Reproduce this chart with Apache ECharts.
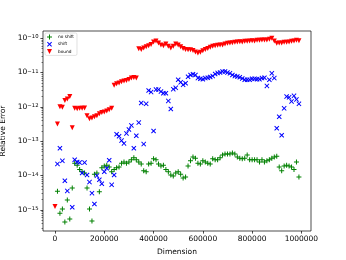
<!DOCTYPE html>
<html><head><meta charset="utf-8">
<script src="https://cdn.jsdelivr.net/npm/echarts@6/dist/echarts.min.js"></script>
<style>html,body{margin:0;padding:0;background:#fff}#c{width:346px;height:260px}</style>
</head><body><div id="c"></div>
<script>
const dims = [0,10000,20000,30000,40000,50000,60000,70000,80000,90000,
 100000,110000,120000,130000,140000,150000,160000,170000,180000,190000,
 200000,210000,220000,230000,240000,250000,260000,270000,280000,290000,
 300000,310000,320000,330000,340000,350000,360000,370000,380000,390000,
 400000,410000,420000,430000,440000,450000,460000,470000,480000,490000,
 500000,510000,520000,530000,540000,550000,560000,570000,580000,590000,
 600000,610000,620000,630000,640000,650000,660000,670000,680000,690000,
 700000,710000,720000,730000,740000,750000,760000,770000,780000,790000,
 800000,810000,820000,830000,840000,850000,860000,870000,880000,890000,
 900000,910000,920000,930000,940000,950000,960000,970000,980000,990000];

const noShift = [null,3.5e-15,8.1e-16,1.07e-15,4.5e-16,1.95e-15,5.5e-16,4.4e-15,2.3e-14,2.0e-14,
 1.5e-14,1.3e-14,1.2e-14,4.4e-15,1.07e-15,4.8e-16,1.1e-14,1.2e-14,3.4e-15,1.7e-14,
 1.9e-14,2.0e-14,1.8e-14,1.3e-14,1.5e-14,1.7e-14,1.8e-14,2.3e-14,2.5e-14,2.3e-14,
 2.5e-14,2.9e-14,3.3e-14,2.9e-14,2.5e-14,2.2e-14,1.4e-14,1.3e-14,2.2e-14,2.3e-14,
 3.1e-14,2.9e-14,2.2e-14,1.9e-14,2.0e-14,1.5e-14,1.3e-14,1.05e-14,9.8e-15,1.2e-14,
 1.3e-14,1.1e-14,8.5e-15,9.1e-15,1.9e-14,2.7e-14,3.5e-14,3.2e-14,2.3e-14,2.2e-14,
 2.7e-14,2.5e-14,2.3e-14,2.2e-14,3.1e-14,2.9e-14,2.9e-14,3.3e-14,4.0e-14,4.3e-14,
 4.3e-14,4.3e-14,4.6e-14,4.3e-14,3.5e-14,3.2e-14,3.1e-14,3.2e-14,4.0e-14,2.9e-14,
 2.9e-14,2.9e-14,2.9e-14,2.5e-14,2.9e-14,2.5e-14,2.7e-14,2.9e-14,3.2e-14,3.5e-14,
 3.7e-14,1.8e-14,1.4e-14,1.9e-14,2.0e-14,1.9e-14,1.8e-14,1.5e-14,2.5e-14,9.1e-15];

const shift = [null,2.2e-14,6.3e-14,2.7e-14,7.1e-15,3.6e-15,null,1.2e-15,2.9e-14,2.5e-14,
 2.4e-14,1.2e-14,2.4e-14,1.05e-14,6.5e-15,3.1e-15,1.5e-15,1.0e-14,7.6e-15,5.8e-15,
 1.3e-14,1.65e-14,2.8e-14,5.4e-15,1.05e-14,1.6e-13,1.4e-13,1.05e-13,8.7e-14,1.7e-13,
 2.2e-13,2.9e-13,6.3e-14,1.45e-13,3.5e-13,1.3e-12,8.3e-14,1.23e-12,3.0e-12,2.7e-12,
 2.0e-13,3.2e-12,3.2e-12,2.8e-12,2.5e-12,2.5e-12,1.5e-12,8.7e-13,3.3e-12,3.6e-12,
 6.2e-12,5.2e-12,4.4e-12,4.9e-12,7.6e-12,8.5e-12,8.9e-12,8.5e-12,6.9e-12,6.6e-12,
 6.4e-12,6.9e-12,7.1e-12,7.4e-12,7.9e-12,9.1e-12,9.8e-12,1.0e-11,1.07e-11,1.07e-11,
 1.0e-11,9.5e-12,8.5e-12,7.9e-12,7.7e-12,7.3e-12,6.7e-12,6.2e-12,6.2e-12,6.2e-12,
 6.6e-12,6.6e-12,6.4e-12,6.4e-12,6.9e-12,7.1e-12,4.1e-12,6.2e-12,9.5e-12,6.9e-12,
 2.4e-13,5.2e-13,1.5e-13,9.1e-13,2.0e-12,1.9e-12,1.45e-12,2.1e-12,1.66e-12,1.23e-12];

const bound = [1.26e-15,3.2e-13,1.02e-12,9.8e-13,1.55e-12,1.7e-12,2.0e-12,2.5e-13,9.1e-13,8.9e-13,
 9.1e-13,9.1e-13,9.3e-13,5.5e-13,4.5e-13,4.8e-13,5.2e-13,5.5e-13,6.3e-13,6.9e-13,
 7.1e-13,7.6e-13,8.3e-13,9.1e-13,4.3e-12,4.7e-12,5.0e-12,5.4e-12,5.7e-12,5.9e-12,
 6.3e-12,6.9e-12,7.2e-12,6.9e-12,4.9e-11,4.7e-11,5.2e-11,5.6e-11,6.0e-11,6.6e-11,
 7.8e-11,8.3e-11,7.2e-11,6.3e-11,6.0e-11,6.8e-11,5.8e-11,5.2e-11,5.8e-11,6.8e-11,
 6.3e-11,5.6e-11,5.0e-11,4.7e-11,4.6e-11,4.6e-11,4.4e-11,4.0e-11,3.7e-11,3.9e-11,
 4.3e-11,4.7e-11,5.0e-11,5.5e-11,5.8e-11,6.0e-11,6.2e-11,6.3e-11,6.3e-11,6.8e-11,
 7.1e-11,7.2e-11,7.4e-11,7.6e-11,7.8e-11,7.9e-11,7.8e-11,8.1e-11,8.1e-11,8.3e-11,
 8.5e-11,8.3e-11,8.7e-11,8.7e-11,8.8e-11,8.9e-11,8.9e-11,9.3e-11,9.9e-11,8.3e-11,
 7.1e-11,7.2e-11,7.2e-11,7.6e-11,7.6e-11,7.8e-11,8.1e-11,8.3e-11,8.7e-11,8.5e-11];

const seriesNames = ['no shift','shift','bound'];
const xTicks = [0,200000,400000,600000,800000,1000000];
const yTickExps = [-15,-14,-13,-12,-11,-10];
const minorMult = [2,3,4,5,6,7,8,9];

const X_MIN = -48700, X_MAX = 1039000;
const Y_MIN = -15.61, Y_MAX = -9.79;

const minorTicks = [];
for (let e = -16; e <= -10; e++) {
  minorMult.forEach(m => {
    const v = e + Math.log10(m);
    if (v > Y_MIN && v < Y_MAX) minorTicks.push(v);
  });
}

function pts(arr) {
  const out = [];
  arr.forEach((v, i) => { if (v != null) out.push([dims[i], Math.log10(v)]); });
  return out;
}

const PLUS = 'path://M4,0H6V4H10V6H6V10H4V6H0V4H4Z';
const XMARK = 'path://M0,1.4L1.4,0L5,3.6L8.6,0L10,1.4L6.4,5L10,8.6L8.6,10L5,6.4L1.4,10L0,8.6L3.6,5Z';
const TRIDOWN = 'path://M0,0L10,0L5,10Z';
const FONT = 'DejaVu Sans';
const GRID = {left: 43, right: 35, top: 31, bottom: 29, containLabel: false, outerBoundsMode: 'none'};
const NOLINE = {show: false, onZero: false};

const chart = echarts.init(document.getElementById('c'), null, {renderer: 'canvas'});
chart.setOption({
  animation: false,
  backgroundColor: '#fff',
  grid: [
    Object.assign({show: true, borderColor: '#000', borderWidth: 0.7, backgroundColor: 'transparent'}, GRID),
    Object.assign({show: false}, GRID)
  ],
  legend: {
    data: [
      {name: seriesNames[0], icon: PLUS},
      {name: seriesNames[1], icon: XMARK},
      {name: seriesNames[2], icon: TRIDOWN}
    ],
    orient: 'vertical',
    left: 45, top: 33,
    padding: [1.5, 3, 1.5, 2],
    itemGap: 2.2,
    itemWidth: 9, itemHeight: 5,
    backgroundColor: 'rgba(255,255,255,0.8)',
    borderColor: '#ccc', borderWidth: 0.6, borderRadius: 1.5,
    textStyle: {fontFamily: FONT, fontSize: 4.3, color: '#000', padding: [0, 0, 0, -1]}
  },
  xAxis: [{
    type: 'value', min: X_MIN, max: X_MAX, position: 'bottom',
    name: 'Dimension', nameLocation: 'middle', nameGap: 14,
    nameTextStyle: {fontFamily: FONT, fontSize: 7.5, color: '#000'},
    axisLine: NOLINE,
    splitLine: {show: false},
    axisTick: {show: true, length: 2.6, lineStyle: {color: '#000', width: 0.7}, customValues: xTicks},
    axisLabel: {customValues: xTicks, fontFamily: FONT, fontSize: 7.5, color: '#000', margin: 4.5,
      formatter: v => String(Math.round(v))}
  }, {
    gridIndex: 1, type: 'value', min: X_MIN, max: X_MAX, position: 'bottom', show: false, axisLine: NOLINE
  }],
  yAxis: [{
    type: 'value', min: Y_MIN, max: Y_MAX, position: 'left',
    name: 'Relative Error', nameLocation: 'middle', nameGap: 29, nameRotate: 90,
    nameTextStyle: {fontFamily: FONT, fontSize: 7.5, color: '#000'},
    axisLine: NOLINE,
    splitLine: {show: false},
    axisTick: {show: true, length: 2.6, lineStyle: {color: '#000', width: 0.7}, customValues: yTickExps},
    axisLabel: {customValues: yTickExps, margin: 4.5, color: '#000',
      formatter: v => '{b|10}{s|\u2212' + Math.abs(Math.round(v)) + '}',
      rich: {
        b: {fontFamily: FONT, fontSize: 7.5, color: '#000', lineHeight: 7.5, verticalAlign: 'bottom', padding: [2.5, 0, 0, 0]},
        s: {fontFamily: FONT, fontSize: 5.3, color: '#000', lineHeight: 5.5, verticalAlign: 'top'}
      }}
  }, {
    gridIndex: 1, type: 'value', min: Y_MIN, max: Y_MAX, position: 'left',
    axisLine: NOLINE, splitLine: {show: false},
    axisTick: {show: true, length: 1.5, lineStyle: {color: '#000', width: 0.5}, customValues: minorTicks},
    axisLabel: {show: true, customValues: minorTicks, formatter: () => ''}
  }],
  series: [
    {name: seriesNames[0], type: 'scatter', data: pts(noShift), symbol: PLUS, symbolSize: 5,
      itemStyle: {color: '#008000', opacity: 1}},
    {name: seriesNames[1], type: 'scatter', data: pts(shift), symbol: XMARK, symbolSize: 5,
      itemStyle: {color: '#0000ff', opacity: 1}},
    {name: seriesNames[2], type: 'scatter', data: pts(bound), symbol: TRIDOWN, symbolSize: 5,
      itemStyle: {color: '#ff0000', opacity: 1}}
  ]
});
</script></body></html>
